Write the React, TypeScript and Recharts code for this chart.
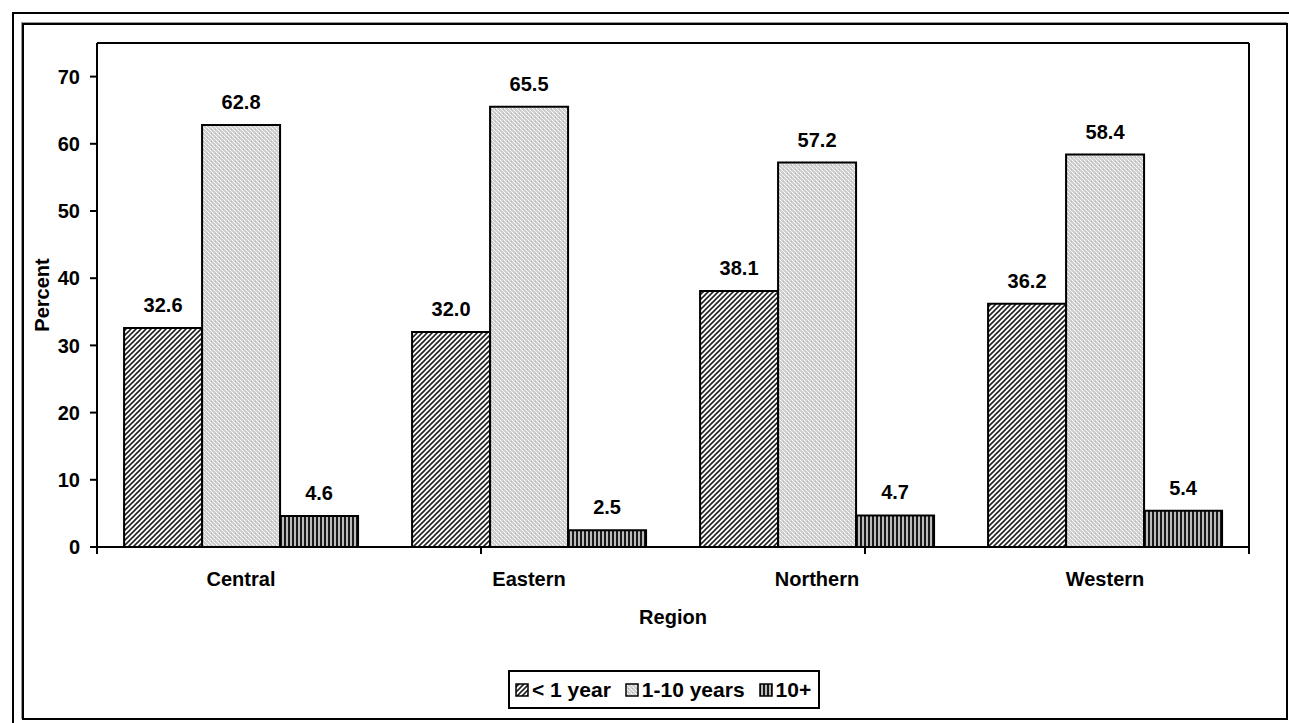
import React from 'react';
import { BarChart, Bar, XAxis, YAxis, LabelList, ReferenceLine } from 'recharts';

const regions = ['Central', 'Eastern', 'Northern', 'Western'];
const lessThanOne = [32.6, 32.0, 38.1, 36.2];
const oneToTen = [62.8, 65.5, 57.2, 58.4];
const tenPlus = [4.6, 2.5, 4.7, 5.4];
const seriesNames = ['< 1 year', '1-10 years', '10+'];
const seriesKeys = ['lt1', 'y1to10', 'y10p'];
const seriesFills = ['url(#p-hatch)', 'url(#p-dots)', 'url(#p-vert)'];
const yTicks = [0, 10, 20, 30, 40, 50, 60, 70];
const sepTicks = [0, 1, 2, 3, 4];

const data = regions.map((r, i) => ({
  region: r,
  lt1: lessThanOne[i],
  y1to10: oneToTen[i],
  y10p: tenPlus[i],
}));

const FONT = 'Arial, "Liberation Sans", sans-serif';
const labelStyle = { fontFamily: FONT, fontWeight: 700, fontSize: 20, fill: '#000' };

const PercentLabel = (props: any) => {
  const vb = props.viewBox || { x: 0, y: 0, width: 0, height: 0 };
  const cx = vb.x + 5;
  const cy = vb.y + vb.height / 2;
  return (
    <text
      x={cx}
      y={cy}
      transform={`rotate(-90 ${cx} ${cy})`}
      textAnchor="middle"
      dominantBaseline="central"
      style={labelStyle}
    >
      Percent
    </text>
  );
};

export default function App() {
  return (
    <div style={{ position: 'absolute', left: 0, top: 0, width: 1289, height: 723, overflow: 'hidden', background: '#fff', fontFamily: FONT }}>
      <div style={{ position: 'absolute', left: 12, top: 12, width: 1300, height: 730, border: '2px solid #000', boxSizing: 'border-box' }} />
      <div style={{ position: 'absolute', left: 22, top: 23, width: 1266, height: 697, border: '2px solid #000', boxShadow: '-1px -1px 0 #999', boxSizing: 'border-box' }} />
      <div style={{ position: 'absolute', left: 0, top: 0 }}>
        <BarChart
          width={1289}
          height={723}
          data={data}
          margin={{ top: 43, right: 39, left: 37, bottom: 95 }}
          barCategoryGap="9.4%"
          barGap={0}
        >
          <defs>
            <pattern id="p-hatch" patternUnits="userSpaceOnUse" width="5" height="5">
              <rect width="5" height="5" fill="#fff" />
              <path d="M-1,1 l2,-2 M0,5 l5,-5 M4,6 l2,-2" stroke="#222" strokeWidth="1.6" />
            </pattern>
            <pattern id="p-dots" patternUnits="userSpaceOnUse" width="4" height="4">
              <rect width="4" height="4" fill="#d0d0d0" />
              <rect x="0" y="0" width="1" height="1" fill="#fff" />
              <rect x="2" y="2" width="1" height="1" fill="#fff" />
              <rect x="1" y="1" width="1" height="1" fill="#eee" />
              <rect x="3" y="3" width="1" height="1" fill="#eee" />
              <rect x="3" y="1" width="1" height="1" fill="#b8b8b8" />
            </pattern>
            <pattern id="p-vert" patternUnits="userSpaceOnUse" width="4" height="4">
              <rect width="4" height="4" fill="#bbb" />
              <rect x="0" y="0" width="2" height="4" fill="#1a1a1a" />
            </pattern>
          </defs>
          <XAxis
            xAxisId="a"
            type="number"
            domain={[0, 4]}
            ticks={sepTicks}
            allowDataOverflow
            height={1}
            tick={{ fill: 'none', fontSize: 1 }}
            tickFormatter={() => ''}
            tickSize={7}
            tickLine={{ stroke: '#000', strokeWidth: 2 }}
            axisLine={{ stroke: '#000', strokeWidth: 2 }}
          />
          <XAxis
            xAxisId="b"
            dataKey="region"
            height={80}
            tickLine={false}
            tickSize={0}
            tickMargin={24}
            axisLine={false}
            tick={{ ...labelStyle }}
            label={{ value: 'Region', position: 'insideBottom', offset: 4, style: labelStyle }}
          />
          <YAxis
            domain={[0, 75]}
            ticks={yTicks}
            width={60}
            tickSize={7}
            tickMargin={10}
            tick={{ ...labelStyle }}
            tickLine={{ stroke: '#000', strokeWidth: 2 }}
            axisLine={{ stroke: '#000', strokeWidth: 2 }}
            label={{ content: PercentLabel }}
          />
          <YAxis
            yAxisId="r"
            orientation="right"
            domain={[0, 75]}
            ticks={yTicks}
            width={1}
            tick={false}
            tickLine={false}
            axisLine={{ stroke: '#000', strokeWidth: 2 }}
          />
          <ReferenceLine xAxisId="b" y={75} stroke="#000" strokeWidth={2} />
          {seriesKeys.map((k, i) => (
            <Bar
              key={k}
              xAxisId="b"
              dataKey={k}
              name={seriesNames[i]}
              fill={seriesFills[i]}
              stroke="#000"
              strokeWidth={2}
              isAnimationActive={false}
            >
              <LabelList
                dataKey={k}
                position="top"
                offset={16}
                formatter={(v: any) => Number(v).toFixed(1)}
                style={labelStyle}
              />
            </Bar>
          ))}
        </BarChart>
      </div>
      <div
        style={{
          position: 'absolute',
          left: 508,
          top: 670,
          height: 39,
          boxSizing: 'border-box',
          border: '2px solid #000',
          display: 'flex',
          alignItems: 'center',
          padding: '0 7px 0 5px',
          background: '#fff',
        }}
      >
        {seriesNames.map((n, i) => (
          <div key={n} style={{ display: 'flex', alignItems: 'center', marginRight: i < seriesNames.length - 1 ? 14 : 0 }}>
            <svg width={14} height={14} style={{ display: 'block', marginRight: 3 }}>
              <rect x={1} y={1} width={12} height={12} fill={seriesFills[i]} stroke="#000" strokeWidth={1.5} />
            </svg>
            <span style={{ fontFamily: FONT, fontWeight: 700, fontSize: 21, color: '#000', whiteSpace: 'nowrap' }}>{n}</span>
          </div>
        ))}
      </div>
    </div>
  );
}
